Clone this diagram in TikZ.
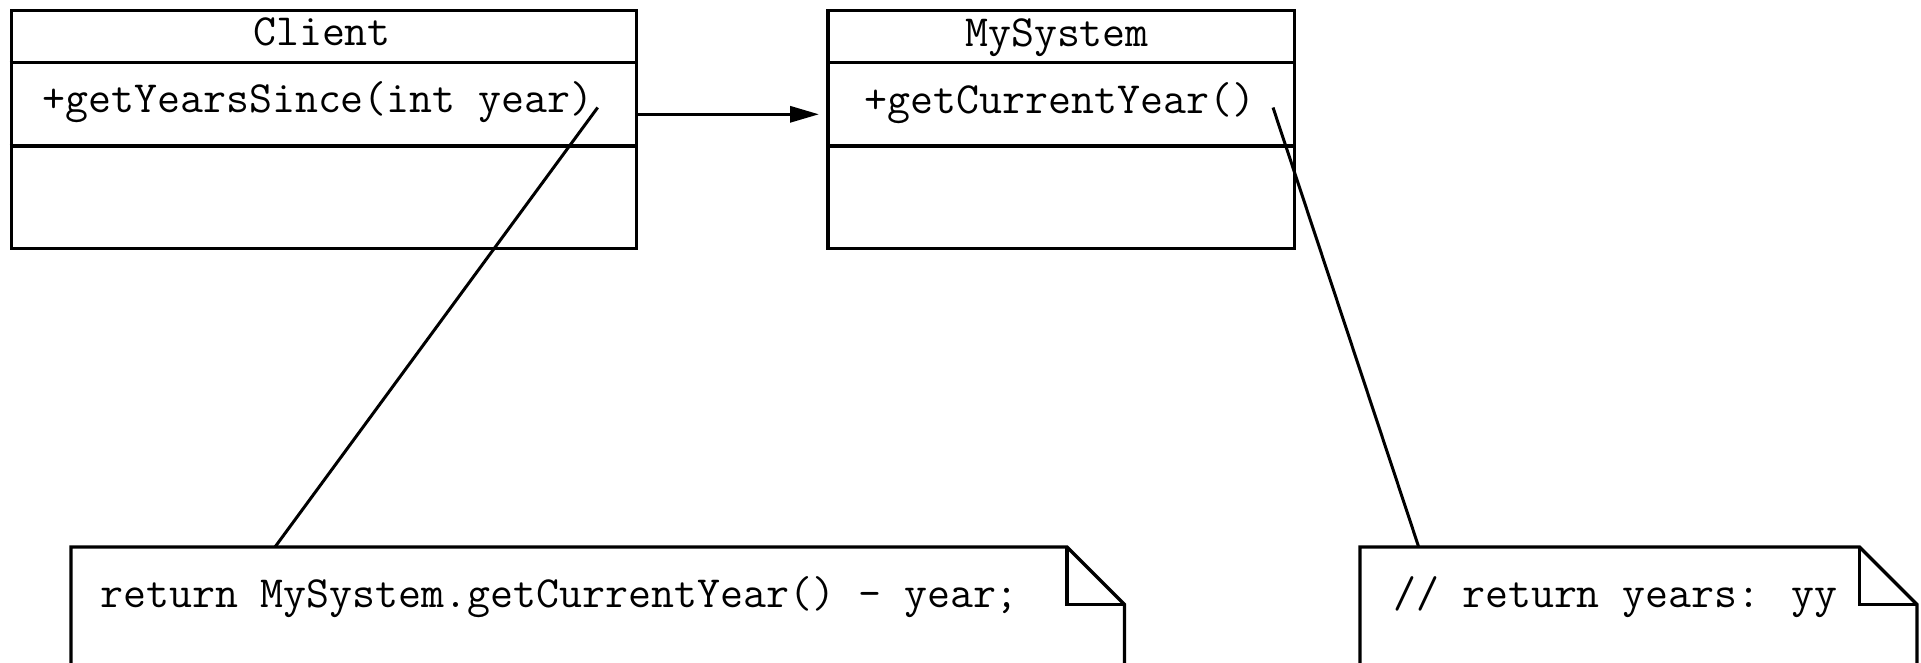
\documentclass[tikz,border=0pt]{standalone}
\usepackage{fontspec}
\usetikzlibrary{arrows.meta}
\begin{document}
\begin{tikzpicture}[x=1pt,y=-1pt,
  classbox/.style={draw, line width=3.5pt, inner sep=0pt, anchor=north west},
  rule/.style={line width=3.3pt},
  txt/.style={font=\ttfamily\fontsize{44.6}{53}\selectfont, inner sep=0pt, anchor=base},
  notetxt/.style={txt, anchor=base west},
  noteline/.style={line width=3.3pt, line join=miter},
  pin/.style={line width=3pt},
  assoc/.style={line width=3.2pt, -{Triangle[length=29pt,width=16pt]}, shorten >=7pt}]
\useasboundingbox (0,0) rectangle (1921,663);
\clip (0,0) rectangle (1921,663);
\fill[white] (0,0) rectangle (1921,663);

% class Client
\node[classbox, minimum width=625pt, minimum height=237.5pt] (client) at (9.5,9) {};
\draw[rule] (client.west |- 0,62.5) -- (client.east |- 0,62.5);
\draw[rule] (client.west |- 0,146) -- (client.east |- 0,146);
\node[txt] (cname) at (322,46) {Client};
\node[txt] (cop) at (318,113) {+getYearsSince(int year)};

% class MySystem
\node[classbox, minimum width=466.5pt, minimum height=237.5pt] (mysys) at (826,9) {};
\draw[rule] (mysys.west |- 0,62.5) -- (mysys.east |- 0,62.5);
\draw[rule] (mysys.west |- 0,146) -- (mysys.east |- 0,146);
\node[txt] (mname) at (1057,47) {MySystem};
\node[txt] (mop) at (1060,114) {+getCurrentYear()};

% association
\coordinate (aout) at (client.east |- 0,114.3);
\coordinate (ain) at (mysys.west |- 0,114.3);
\draw[assoc] (aout) -- (ain);

% note on getYearsSince
\coordinate (n1) at (71,547);
\draw[noteline] (n1) ++(0,160) -- (n1) -- (1067,547) -- (1124.5,604.5) -- (1124.5,707);
\draw[noteline] (1067,547) -- (1067,604.5) -- (1124.5,604.5);
\node[notetxt] (n1txt) at (100,607) {return MySystem.getCurrentYear() - year;};

% note on getCurrentYear
\coordinate (n2) at (1360,547);
\draw[noteline] (n2) ++(0,160) -- (n2) -- (1859.5,547) -- (1917,604.5) -- (1917,707);
\draw[noteline] (1859.5,547) -- (1859.5,604.5) -- (1917,604.5);
\node[notetxt] (n2txt) at (1393,607) {// return years: yy};

% note anchors
\coordinate (p1) at (597.7,107.5);
\coordinate (p1n) at (275,547);
\draw[pin] (p1) -- (p1n);
\coordinate (p2) at (1273,107.5);
\coordinate (p2n) at (1418.7,547);
\draw[pin] (p2) -- (p2n);
\end{tikzpicture}
\end{document}
